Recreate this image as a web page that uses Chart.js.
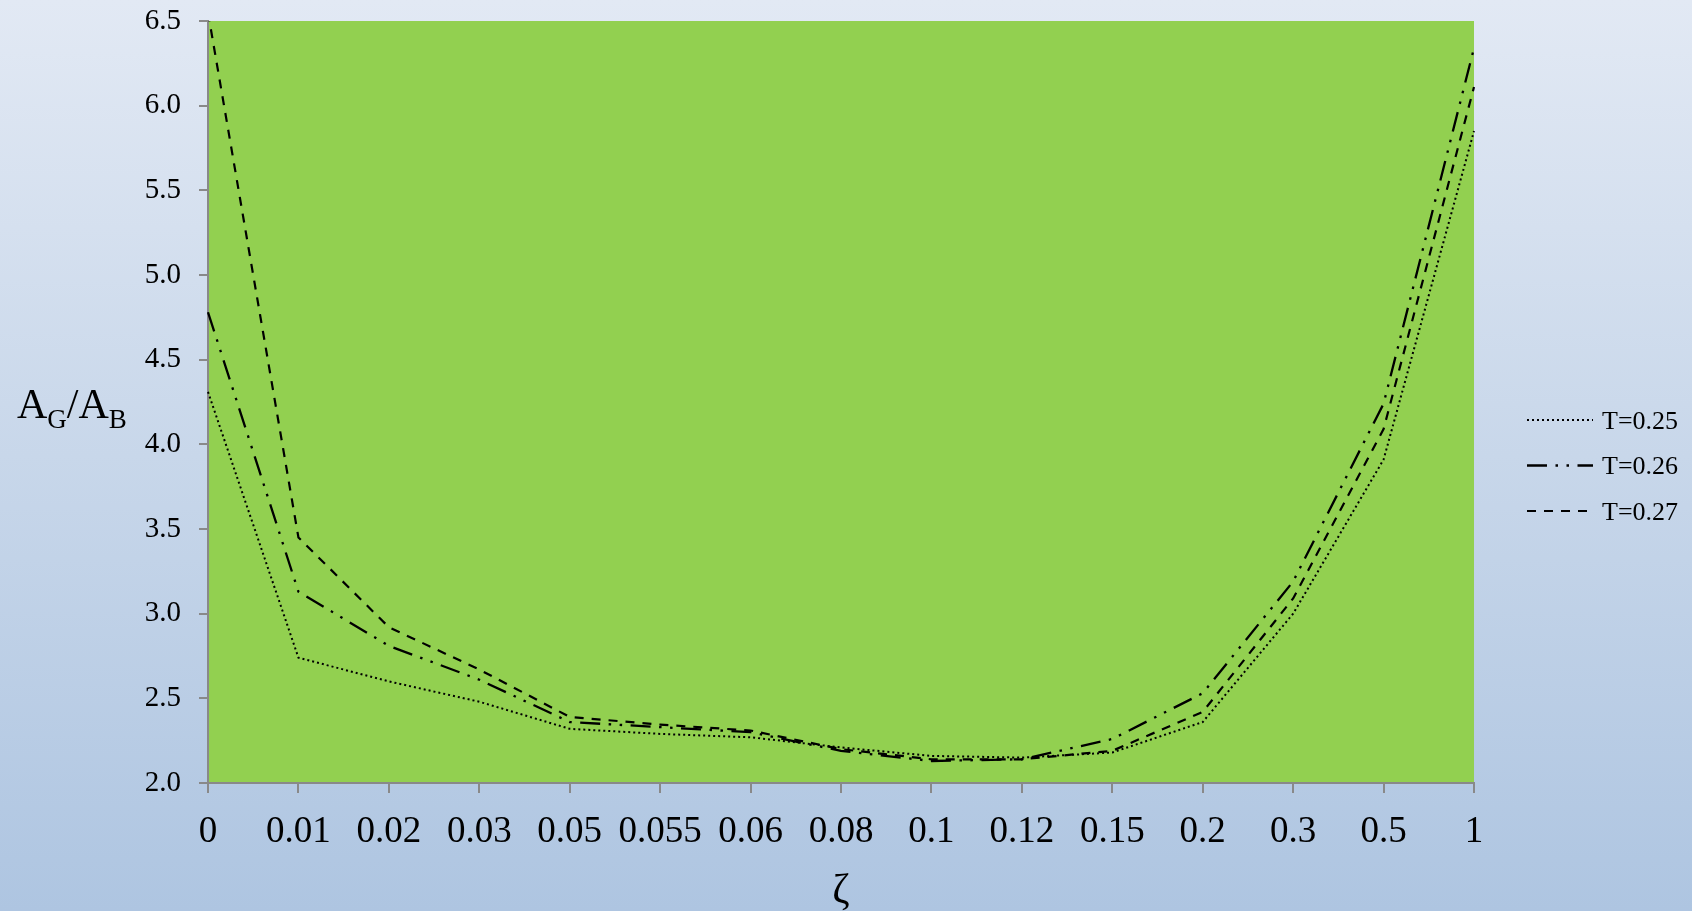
<!DOCTYPE html>
<html>
<head>
<meta charset="utf-8">
<script src="https://cdn.jsdelivr.net/npm/chart.js@4.4.1/dist/chart.umd.min.js"></script>
<style>
  html, body { margin: 0; padding: 0; }
  body {
    width: 1692px; height: 911px; overflow: hidden;
    background: linear-gradient(to bottom, #e2e9f4 0%, #c8d7ea 50%, #aec5e1 100%);
  }
  #wrap { position: relative; width: 1692px; height: 911px; }
</style>
</head>
<body>
<div id="wrap"><canvas id="chart"></canvas></div>
<script>
// Damping ratio categories along the x axis
const zetaLabels = ['0', '0.01', '0.02', '0.03', '0.05', '0.055', '0.06', '0.08', '0.1', '0.12', '0.15', '0.2', '0.3', '0.5', '1'];

// A_G / A_B for each period T
const seriesT025 = [4.31, 2.74, 2.60, 2.48, 2.32, 2.29, 2.27, 2.21, 2.16, 2.15, 2.18, 2.36, 3.00, 3.91, 5.85];
const seriesT026 = [4.78, 3.13, 2.81, 2.61, 2.36, 2.33, 2.30, 2.19, 2.13, 2.14, 2.26, 2.53, 3.19, 4.24, 6.34];
const seriesT027 = [6.55, 3.45, 2.92, 2.67, 2.39, 2.345, 2.31, 2.20, 2.14, 2.14, 2.19, 2.42, 3.09, 4.09, 6.11];

const seriesNames = ['T=0.25', 'T=0.26', 'T=0.27'];

// Value axis range
const yMin = 2.0;
const yMax = 6.5;
const yStep = 0.5;

const SERIF = "'Liberation Serif', 'Times New Roman', serif";
const AXIS_GREY = '#898989';

// Fill the plotting area with green
const plotFill = {
  id: 'plotFill',
  beforeDraw(chart) {
    const { ctx, chartArea: a } = chart;
    ctx.save();
    ctx.fillStyle = '#92d050';
    ctx.fillRect(a.left, a.top, a.right - a.left, a.bottom - a.top);
    ctx.restore();
  }
};

// Y-axis title with subscripts: A_G / A_B
const yTitle = {
  id: 'yTitle',
  afterDraw(chart) {
    const { ctx } = chart;
    const base = 418, subBase = 428;
    const big = '42px ' + SERIF, small = '27px ' + SERIF;
    let x = 17;
    ctx.save();
    ctx.fillStyle = '#000';
    ctx.textBaseline = 'alphabetic';
    ctx.textAlign = 'left';
    const parts = [['A', big, base], ['G', small, subBase], ['/', big, base], ['A', big, base], ['B', small, subBase]];
    for (const [t, f, y] of parts) {
      ctx.font = f;
      ctx.fillText(t, x, y);
      x += ctx.measureText(t).width;
    }
    ctx.restore();
  }
};

// Legend on the right, drawn with each dataset's own line style
const sideLegend = {
  id: 'sideLegend',
  afterDraw(chart) {
    const { ctx, chartArea: a } = chart;
    const x0 = a.right + 53, x1 = a.right + 119, tx = a.right + 128;
    ctx.save();
    chart.data.datasets.forEach((ds, i) => {
      const y = 420 + i * 45.5;
      ctx.beginPath();
      ctx.setLineDash(ds.borderDash || []);
      ctx.lineWidth = ds.borderWidth;
      ctx.strokeStyle = ds.borderColor;
      ctx.lineCap = 'butt';
      ctx.moveTo(x0, y);
      ctx.lineTo(x1, y);
      ctx.stroke();
      ctx.setLineDash([]);
      ctx.font = '26px ' + SERIF;
      ctx.fillStyle = '#000';
      ctx.textBaseline = 'alphabetic';
      ctx.textAlign = 'left';
      ctx.fillText(ds.label, tx, y + 8.5);
    });
    ctx.restore();
  }
};

const lineStyles = [
  { borderDash: [2, 3], borderWidth: 2 },
  { borderDash: [20, 8.5, 2.5, 8.5, 2.5, 8.5], borderWidth: 2.3 },
  { borderDash: [9, 8], borderWidth: 2.2 }
];
const seriesValues = [seriesT025, seriesT026, seriesT027];

new Chart(document.getElementById('chart'), {
  type: 'line',
  data: {
    labels: zetaLabels,
    datasets: seriesValues.map((vals, i) => ({
      label: seriesNames[i],
      data: vals,
      borderColor: '#000',
      borderWidth: lineStyles[i].borderWidth,
      borderDash: lineStyles[i].borderDash,
      pointRadius: 0,
      pointHoverRadius: 0,
      tension: 0,
      fill: false
    }))
  },
  options: {
    responsive: true,
    maintainAspectRatio: false,
    animation: false,
    events: [],
    layout: { padding: { left: 0, right: 218, top: 21, bottom: 0 } },
    plugins: {
      legend: { display: false },
      tooltip: { enabled: false }
    },
    scales: {
      x: {
        type: 'category',
        offset: false,
        grid: { display: true, drawOnChartArea: false, drawTicks: true, tickLength: 10, color: AXIS_GREY, lineWidth: 2 },
        border: { display: true, color: AXIS_GREY, width: 2 },
        ticks: {
          autoSkip: false, maxRotation: 0, minRotation: 0, padding: 17,
          color: '#000', font: { family: SERIF, size: 37 }
        },
        title: {
          display: true, text: 'ζ', color: '#000',
          font: { family: SERIF, size: 42 }, padding: { top: 0, bottom: -6 }
        },
        afterFit(scale) { scale.height = 128; }
      },
      y: {
        min: yMin, max: yMax,
        grid: { display: true, drawOnChartArea: false, drawTicks: true, tickLength: 9, color: AXIS_GREY, lineWidth: 2 },
        border: { display: true, color: AXIS_GREY, width: 2 },
        ticks: {
          stepSize: yStep, padding: 18, color: '#000',
          font: { family: SERIF, size: 29 },
          callback: v => Number(v).toFixed(1)
        },
        afterFit(scale) {
          scale.width = 208;
          scale.paddingTop = 0;
          scale.paddingBottom = 0;
        }
      }
    }
  },
  plugins: [plotFill, yTitle, sideLegend]
});
</script>
</body>
</html>
